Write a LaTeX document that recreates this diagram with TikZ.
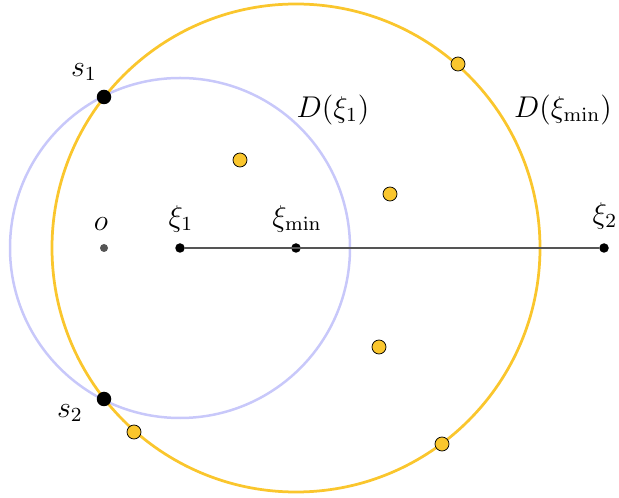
\documentclass[tikz,border=0pt]{standalone}
\begin{document}
\begin{tikzpicture}[x=0.4pt,y=-0.4pt,
  orangec/.style={draw=circorange,line width=1.1pt},
  bluec/.style={draw=circblue,line width=1pt},
  pt/.style={circle,draw=black,fill=circorange,line width=0.3pt,inner sep=0pt,minimum size=5.6pt},
  bigdot/.style={circle,fill=black,inner sep=0pt,minimum size=5.8pt},
  smalldot/.style={circle,fill=black,inner sep=0pt,minimum size=3.8pt},
  lbl/.style={font=\fontsize{12}{14}\selectfont,inner sep=0pt}]
\definecolor{circorange}{RGB}{250,198,45}
\definecolor{circblue}{RGB}{200,200,250}
\definecolor{segc}{RGB}{85,85,85}
\useasboundingbox (0,0) rectangle (619,498);
\coordinate (c1) at (180,248);
\coordinate (cm) at (296,248);
\draw[bluec] (c1) circle[radius=170*0.4pt];
\draw[orangec] (cm) circle[radius=244*0.4pt];
\node[smalldot] (x1) at (180,248) {};
\node[smalldot] (xm) at (296,248) {};
\node[smalldot] (x2) at (604,248) {};
\draw[segc,line width=1pt] (x1) -- (x2);
\node[circle,fill=segc,inner sep=0pt,minimum size=3.2pt] (o) at (104,248) {};
\node[bigdot] (s1) at (104,97) {};
\node[bigdot] (s2) at (104,399) {};
\node[pt] (p1) at (458,64) {};
\node[pt] (p2) at (240,160) {};
\node[pt] (p3) at (390,194) {};
\node[pt] (p4) at (379,347) {};
\node[pt] (p5) at (442,444) {};
\node[pt] (p6) at (134,432) {};
\node[lbl] (ls1) at (84,72) {$s_1$};
\node[lbl] (ls2) at (70,413) {$s_2$};
\node[lbl] (lo) at (101,224) {$o$};
\node[lbl] (lx1) at (181,219) {$\xi_1$};
\node[lbl] (lxm) at (297,219) {$\xi_{\min}$};
\node[lbl] (lx2) at (605,216) {$\xi_2$};
\node[lbl] (ld1) at (333,110) {$D(\xi_1)$};
\node[lbl] (ldm) at (563,110) {$D(\xi_{\min})$};
\end{tikzpicture}
\end{document}
